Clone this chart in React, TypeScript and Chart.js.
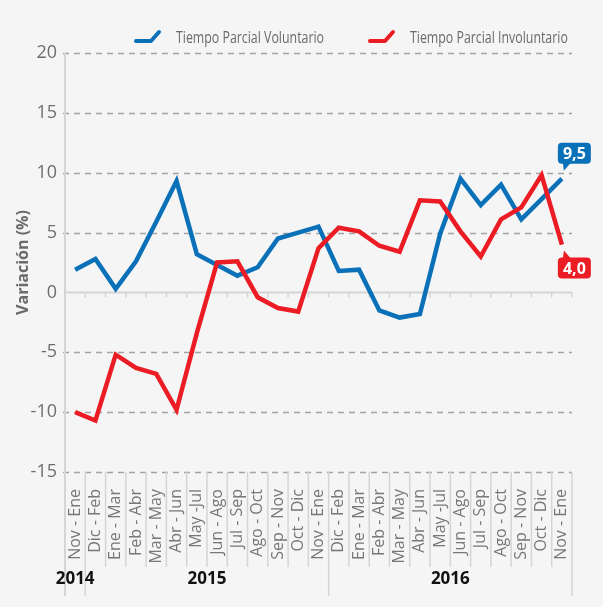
import React, { useEffect, useRef } from 'react';
import { Chart, registerables } from 'chart.js';

Chart.register(...registerables);

const categories = [
  'Nov - Ene', 'Dic - Feb', 'Ene - Mar', 'Feb - Abr', 'Mar - May', 'Abr - Jun',
  'May -Jul', 'Jun - Ago', 'Jul - Sep', 'Ago - Oct', 'Sep - Nov', 'Oct - Dic',
  'Nov - Ene', 'Dic - Feb', 'Ene - Mar', 'Feb - Abr', 'Mar - May', 'Abr - Jun',
  'May -Jul', 'Jun - Ago', 'Jul - Sep', 'Ago - Oct', 'Sep - Nov', 'Oct - Dic', 'Nov - Ene',
];

const voluntario = [
  1.9, 2.8, 0.3, 2.6, 5.9, 9.3, 3.2, 2.3, 1.4, 2.1, 4.5, 5.0, 5.5,
  1.8, 1.9, -1.5, -2.1, -1.8, 4.9, 9.5, 7.3, 9.0, 6.1, 7.8, 9.5,
];

const involuntario = [
  -10.0, -10.7, -5.2, -6.3, -6.8, -9.8, -3.4, 2.5, 2.6, -0.4, -1.3, -1.6, 3.7,
  5.4, 5.1, 3.9, 3.4, 7.7, 7.6, 5.1, 3.0, 6.1, 7.1, 9.8, 4.0,
];

const yearLabels = ['2014', '2015', '2016'];
const yearStart = [0, 1, 13];
const yearEnd = [0, 12, 24];

const seriesNames = ['Tiempo Parcial Voluntario', 'Tiempo Parcial Involuntario'];
const Y_MIN = -15;
const Y_MAX = 20;
const Y_STEP = 5;

const BLUE = '#0a71b8';
const RED = '#ec1c24';
const BG = '#f5f5f5';

const fmt = (v: number) => v.toFixed(1).replace('.', ',');

const decorPlugin = {
  id: 'decor',
  beforeDatasetsDraw(chart: any) {
    const { ctx, chartArea, scales } = chart;
    const { left, right, top, bottom } = chartArea;
    const x = scales.x;
    const y = scales.y;
    ctx.save();
    // dashed grid lines
    ctx.lineWidth = 1.3;
    ctx.strokeStyle = '#a3a3a3';
    ctx.setLineDash([6, 5]);
    y.ticks.forEach((t: any) => {
      if (t.value === 0) return;
      const py = Math.round(y.getPixelForValue(t.value)) + 0.5;
      ctx.beginPath();
      ctx.moveTo(left - 2, py);
      ctx.lineTo(right, py);
      ctx.stroke();
    });
    ctx.setLineDash([]);
    const bin = x.getPixelForValue(1) - x.getPixelForValue(0);
    const b0 = x.getPixelForValue(0) - bin / 2;
    // zero line
    const zy = y.getPixelForValue(0);
    ctx.strokeStyle = '#d5d5d5';
    ctx.lineWidth = 2;
    ctx.beginPath();
    ctx.moveTo(left, zy);
    ctx.lineTo(right, zy);
    ctx.stroke();
    ctx.lineWidth = 1.5;
    for (let i = 1; i <= categories.length; i++) {
      const bx = b0 + i * bin;
      ctx.beginPath();
      ctx.moveTo(bx, zy);
      ctx.lineTo(bx, zy + 5);
      ctx.stroke();
    }
    // y axis line
    ctx.lineWidth = 2;
    ctx.beginPath();
    ctx.moveTo(left, top);
    ctx.lineTo(left, bottom + 124);
    ctx.stroke();
    // dividers in label area
    ctx.lineWidth = 1.5;
    for (let i = 1; i <= categories.length; i++) {
      const bx = b0 + i * bin;
      const isYear = yearEnd.indexOf(i - 1) >= 0;
      ctx.beginPath();
      ctx.moveTo(bx, bottom);
      ctx.lineTo(bx, bottom + (isYear ? 124 : 95));
      ctx.stroke();
    }
    // year labels
    ctx.fillStyle = '#111';
    ctx.font = 'bold 17px "Open Sans", sans-serif';
    ctx.textAlign = 'center';
    ctx.textBaseline = 'middle';
    yearLabels.forEach((lab, k) => {
      const cx = (x.getPixelForValue(yearStart[k]) + x.getPixelForValue(yearEnd[k])) / 2;
      ctx.fillText(lab, cx, bottom + 107);
    });
    ctx.restore();
  },
  afterDraw(chart: any) {
    const { ctx } = chart;
    ctx.save();
    // legend
    const items = [
      { color: BLUE, text: seriesNames[0], x: 135 },
      { color: RED, text: seriesNames[1], x: 369 },
    ];
    ctx.font = '16px "Open Sans", sans-serif';
    ctx.textBaseline = 'middle';
    ctx.textAlign = 'left';
    const w0 = ctx.measureText(seriesNames[0]).width;
    const sx = w0 > 0 ? 148 / w0 : 1;
    items.forEach((it) => {
      ctx.strokeStyle = it.color;
      ctx.lineWidth = 4;
      ctx.lineCap = 'round';
      ctx.lineJoin = 'round';
      ctx.beginPath();
      ctx.moveTo(it.x + 1, 41);
      ctx.lineTo(it.x + 16, 41);
      ctx.lineTo(it.x + 24, 32);
      ctx.stroke();
      ctx.fillStyle = '#6a6a6a';
      ctx.save();
      ctx.translate(it.x + 41, 38);
      ctx.scale(sx, 1);
      ctx.fillText(it.text, 0, 0);
      ctx.restore();
    });
    // end value labels
    const drawTag = (dsIndex: number, color: string, above: boolean) => {
      const meta = chart.getDatasetMeta(dsIndex);
      const pts = meta.data;
      const p = pts[pts.length - 1];
      const vals = chart.data.datasets[dsIndex].data as number[];
      const txt = fmt(vals[vals.length - 1]);
      const w = 33;
      const h = 21;
      const bx = p.x - 4;
      const by = above ? p.y - 15 - h : p.y + 13;
      ctx.fillStyle = color;
      ctx.beginPath();
      if ((ctx as any).roundRect) (ctx as any).roundRect(bx, by, w, h, 4);
      else ctx.rect(bx, by, w, h);
      ctx.fill();
      ctx.beginPath();
      if (above) {
        ctx.moveTo(p.x + 1, by + h - 1);
        ctx.lineTo(p.x + 9, by + h - 1);
        ctx.lineTo(p.x + 2, by + h + 7);
      } else {
        ctx.moveTo(p.x + 1, by + 1);
        ctx.lineTo(p.x + 9, by + 1);
        ctx.lineTo(p.x + 2, by - 7);
      }
      ctx.closePath();
      ctx.fill();
      ctx.fillStyle = '#fff';
      ctx.font = 'bold 16px "Open Sans", sans-serif';
      ctx.textAlign = 'center';
      ctx.textBaseline = 'middle';
      ctx.fillText(txt, bx + w / 2, by + h / 2 + 1);
    };
    drawTag(1, BLUE, true);
    drawTag(0, RED, false);
    ctx.restore();
  },
};

export default function App() {
  const ref = useRef<HTMLCanvasElement | null>(null);
  useEffect(() => {
    if (!ref.current) return;
    const chart = new Chart(ref.current, {
      type: 'line',
      data: {
        labels: categories,
        datasets: [
          {
            label: seriesNames[1],
            data: involuntario,
            borderColor: RED,
            backgroundColor: RED,
            borderWidth: 4.5,
            pointRadius: 0,
            tension: 0,
            order: 0,
          },
          {
            label: seriesNames[0],
            data: voluntario,
            borderColor: BLUE,
            backgroundColor: BLUE,
            borderWidth: 4.5,
            pointRadius: 0,
            tension: 0,
            order: 1,
          },
        ],
      },
      options: {
        animation: false,
        responsive: false,
        devicePixelRatio: 1,
        layout: { padding: { top: 53, right: 31, left: 0, bottom: 0 } },
        plugins: { legend: { display: false }, tooltip: { enabled: false } },
        scales: {
          x: {
            type: 'category',
            offset: true,
            grid: { display: false },
            border: { display: false },
            ticks: {
              autoSkip: false,
              minRotation: 90,
              maxRotation: 90,
              padding: 9,
              color: '#777',
              font: { family: '"Open Sans", sans-serif', size: 16 },
            },
            afterFit: (s: any) => {
              s.height = 135;
            },
          },
          y: {
            min: Y_MIN,
            max: Y_MAX,
            grid: { display: false, drawTicks: false },
            border: { display: false },
            ticks: {
              stepSize: Y_STEP,
              padding: 8,
              color: '#6e6e6e',
              font: { family: '"Open Sans", sans-serif', size: 18 },
            },
            title: {
              display: true,
              text: 'Variación (%)',
              color: '#6b6b6b',
              font: { family: '"Open Sans", sans-serif', size: 16, weight: 'bold' },
              padding: { top: 14, bottom: 0 },
            },
            afterFit: (s: any) => {
              s.width = 65;
            },
          },
        },
      },
      plugins: [decorPlugin],
    });
    return () => chart.destroy();
  }, []);
  return (
    <div style={{ position: 'absolute', left: 0, top: 0, width: 603, height: 607, background: BG }}>
      <canvas ref={ref} width={603} height={607} style={{ display: 'block' }} />
    </div>
  );
}
